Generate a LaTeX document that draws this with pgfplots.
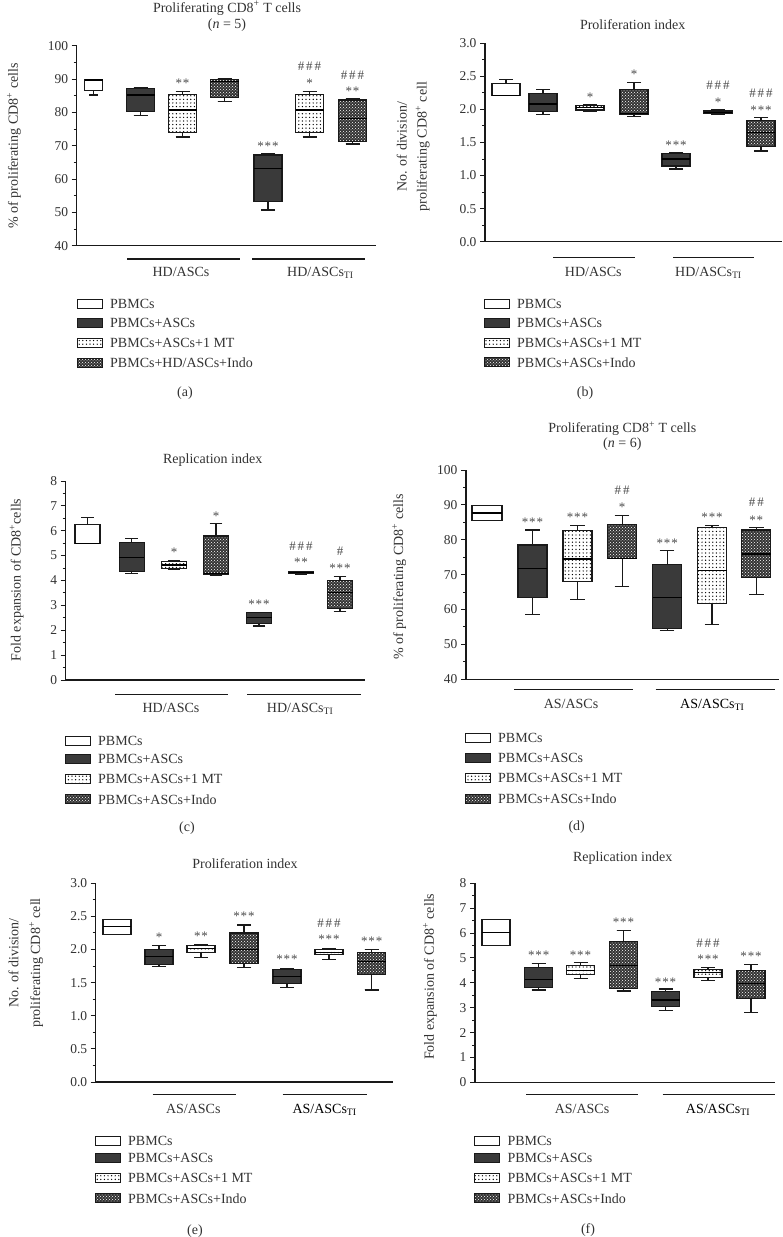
\documentclass[border=0pt]{standalone}
\usepackage{fontspec}
\setmainfont{Liberation Serif}
\usepackage{pgfplots}
\pgfplotsset{compat=1.18}
\usepgfplotslibrary{statistics}
\usetikzlibrary{patterns}
\pgfdeclarepatternformonly{mydots}{\pgfqpoint{-1pt}{-1pt}}{\pgfqpoint{1pt}{1pt}}{\pgfqpoint{3.6pt}{3.6pt}}{\pgfpathcircle{\pgfqpoint{0pt}{0pt}}{0.7pt}\pgfusepath{fill}}
\definecolor{tg}{HTML}{333333}
\definecolor{boxdark}{HTML}{3A3A3A}
\newcommand{\tf}{\fontsize{14}{16.8}\selectfont}
\newcommand{\af}{\fontsize{13}{14}\selectfont}
\tikzset{
  pbm/.style={draw=black!90, fill=white},
  asc/.style={draw=black!90, fill=boxdark},
  mt/.style={draw=black!90, pattern=mydots, pattern color=black},
  indoA/.style={draw=black!90, fill=black!80},
  indoB/.style={draw=black!90, pattern=crosshatch dots, pattern color=white},
}
\pgfplotsset{
  /pgf/number format/assume math mode=true,
  panel/.style={scale only axis, clip=false, anchor=south west,
    axis x line=bottom, axis y line=left,
    axis line style={-, line width=1.2pt, black!90},
    xtick=\empty, xmin=0, tick align=outside,
    major tick length=5pt, minor tick length=3pt,
    every tick/.style={black!90, line width=1pt},
    minor y tick num=1,
    yticklabel style={font=\fontsize{13.5}{14}\selectfont, text=tg},
    boxplot/every median/.style={line width=1.2pt, black},
  },
  dec/.style={yticklabel={\pgfmathprintnumber[fixed,fixed zerofill,precision=1]{\tick}}},
}
% box: pos, width, lw, q1, med, q3, uw, style   (x in units of 100 px)
\newcommand{\bx}[8]{%
  \addplot[#8, line width=1.1pt, boxplot prepared={draw direction=y, draw position=#1, box extend=#2, whisker extend=#2*0.5, lower whisker=#3, lower quartile=#4, median=#5, upper quartile=#6, upper whisker=#7}] coordinates {};}
\newcommand{\bxi}[7]{\bx{#1}{#2}{#3}{#4}{#5}{#6}{#7}{indoA}\bx{#1}{#2}{#3}{#4}{#5}{#6}{#7}{indoB}}
\newcommand{\st}[3]{\node[text=black!70, font=\af, inner sep=0, yshift=-2pt] at (axis cs:#1,#2) {#3};}
\newcommand{\hs}[3]{\node[text=black!70, font=\af, inner sep=0] at (axis cs:#1,#2) {#3};}
\newcommand{\sA}{*}
\newcommand{\sB}{*\kern0.8pt*}
\newcommand{\sC}{*\kern0.8pt*\kern0.8pt*}
\newcommand{\hA}{\#}
\newcommand{\hB}{\#\kern2pt\#}
\newcommand{\hC}{\#\kern2pt\#\kern2pt\#}
% legend row: x, y, style, text
\newcommand{\sw}[3]{\draw[#3, line width=1pt] (#1pt,{-#2pt+4.5pt}) rectangle ({#1pt+25pt},{-#2pt-4.5pt});}
\newcommand{\lr}[4]{%
  \sw{#1}{#2}{#3}
  \node[anchor=west, inner sep=0, text=tg, font=\tf] at ({#1pt+33pt},-#2pt) {#4};}
\newcommand{\mylegend}[6]{% x, y1..y4, last text
  \lr{#1}{#2}{pbm}{PBMCs}
  \lr{#1}{#3}{asc}{PBMCs+ASCs}
  \lr{#1}{#4}{mt}{PBMCs+ASCs+1 MT}
  \sw{#1}{#5}{indoA}
  \lr{#1}{#5}{indoB}{#6}}
\newcommand{\grp}[8]{% y line, x1,x2, x3,x4, ylabel, center1, left2
  \draw[line width=1.2pt, black!90] (#2pt,-#1pt) -- (#3pt,-#1pt);
  \draw[line width=1.2pt, black!90] (#4pt,-#1pt) -- (#5pt,-#1pt);
  \node[anchor=base, inner sep=0, text=tg, font=\tf] at (#7pt,{-#6pt-5pt}) {\grpA};
  \node[anchor=base west, inner sep=0, text=tg, font=\tf] at (#8pt,{-#6pt-5pt}) {\grpB};}
\begin{document}
\begin{tikzpicture}
\path[use as bounding box] (0,0) rectangle (783pt,-1237pt);
\fill[white] (0,0) rectangle (783pt,-1237pt);

% ================= (a) =================
\begin{axis}[panel, at={(76.7pt,-245.7pt)}, width=299pt, height=200pt, xmax=2.99, ymin=40, ymax=100, ytick={40,50,...,100}]
\bx{0.168}{0.18}{85.2}{86.5}{89.7}{89.7}{89.7}{pbm}
\bx{0.638}{0.28}{79.0}{80.2}{85.2}{87.2}{87.4}{asc}
\bx{1.058}{0.28}{72.6}{74.0}{80.7}{85.3}{86.2}{mt}
\bxi{1.478}{0.28}{83.2}{84.5}{89.2}{89.9}{90.2}
\bx{1.913}{0.28}{50.7}{53.2}{63.2}{67.2}{67.6}{asc}
\bx{2.328}{0.28}{72.6}{74.0}{80.7}{85.3}{86.2}{mt}
\bxi{2.758}{0.28}{70.5}{71.2}{78.2}{83.7}{84.0}
\st{1.058}{89.4}{\sB}
\st{1.913}{70.5}{\sC}
\hs{2.328}{93.7}{\hC}
\st{2.328}{89.4}{\sA}
\hs{2.758}{91.2}{\hC}
\st{2.758}{86.9}{\sB}
\end{axis}
\node[text=tg, font=\tf] at (227pt,-8.3pt) {Proliferating CD8\textsuperscript{+} T cells};
\node[text=tg, font=\tf] at (227pt,-25pt) {(\textit{n} = 5)};
\node[text=tg, font=\tf, rotate=90] at (14pt,-146pt) {\% of proliferating CD8\textsuperscript{+} cells};
\def\grpA{HD/ASCs}\def\grpB{HD/ASCs\textsubscript{TI}}
\grp{259}{127}{240}{252}{365}{271.7}{181}{287}
\mylegend{77}{304.3}{322.7}{342.7}{362.7}{PBMCs+HD/ASCs+Indo}
\node[text=tg, font=\tf] at (185pt,-393pt) {(a)};

% ================= (b) =================
\begin{axis}[panel, dec, at={(485pt,-241.7pt)}, width=297pt, height=198.4pt, xmax=2.97, ymin=0, ymax=3, ytick={0,0.5,...,3}]
\bx{0.21}{0.28}{2.21}{2.21}{2.21}{2.386}{2.457}{pbm}
\bx{0.58}{0.28}{1.927}{1.962}{2.083}{2.245}{2.295}{asc}
\bx{1.05}{0.28}{1.973}{1.992}{2.033}{2.064}{2.079}{mt}
\bxi{1.49}{0.28}{1.891}{1.917}{1.943}{2.295}{2.405}
\bx{1.91}{0.28}{1.099}{1.145}{1.251}{1.327}{1.346}{asc}
\bx{2.33}{0.28}{1.927}{1.932}{1.952}{1.977}{1.992}{mt}
\bxi{2.76}{0.28}{1.372}{1.437}{1.649}{1.826}{1.876}
\st{1.05}{2.22}{\sA}
\st{1.49}{2.56}{\sA}
\st{1.91}{1.49}{\sC}
\hs{2.33}{2.36}{\hC}
\st{2.33}{2.14}{\sA}
\hs{2.76}{2.25}{\hC}
\st{2.76}{2.02}{\sC}
\end{axis}
\node[text=tg, font=\tf] at (632.7pt,-25pt) {Proliferation index};
\node[text=tg, font=\fontsize{14}{20}\selectfont, rotate=90, align=center] at (413.3pt,-146.7pt) {No. of division/\\proliferating CD8\textsuperscript{+} cell};
\grp{257.3}{553}{635}{673}{754}{271}{593.3}{675}
\mylegend{484}{304.3}{323.3}{342.7}{362.3}{PBMCs+ASCs+Indo}
\node[text=tg, font=\tf] at (585pt,-392.7pt) {(b)};

% ================= (c) =================
\begin{axis}[panel, at={(65.7pt,-680pt)}, width=299.3pt, height=199pt, xmax=2.993, ymin=0, ymax=8, ytick={0,1,...,8}]
\bx{0.218}{0.25}{5.50}{5.50}{5.50}{6.26}{6.54}{pbm}
\bx{0.66}{0.25}{4.29}{4.38}{4.92}{5.54}{5.70}{asc}
\bx{1.083}{0.25}{4.45}{4.48}{4.62}{4.76}{4.80}{mt}
\bxi{1.503}{0.25}{4.20}{4.26}{4.28}{5.79}{6.28}
\bx{1.933}{0.25}{2.17}{2.28}{2.52}{2.71}{2.73}{asc}
\bx{2.353}{0.25}{4.26}{4.29}{4.32}{4.36}{4.38}{mt}
\bxi{2.743}{0.25}{2.75}{2.88}{3.51}{3.99}{4.16}
\st{1.083}{5.20}{\sA}
\st{1.503}{6.65}{\sA}
\st{1.933}{3.11}{\sC}
\hs{2.353}{5.39}{\hC}
\st{2.353}{4.83}{\sB}
\hs{2.743}{5.19}{\hA}
\st{2.743}{4.58}{\sC}
\end{axis}
\node[text=tg, font=\tf] at (212.7pt,-460pt) {Replication index};
\node[text=tg, font=\tf, rotate=90] at (16.7pt,-580pt) {Fold expansion of CD8\textsuperscript{+}cells};
\grp{694.3}{115}{228}{247}{361}{707.7}{171}{266.7}
\mylegend{65}{741}{759.3}{779.3}{799.3}{PBMCs+ASCs+Indo}
\node[text=tg, font=\tf] at (187pt,-828pt) {(c)};

% ================= (d) =================
\begin{axis}[panel, at={(466pt,-679.3pt)}, width=313pt, height=209.3pt, xmax=3.13, ymin=40, ymax=100, ytick={40,50,...,100}]
\bx{0.21}{0.30}{85.6}{85.6}{87.7}{89.7}{89.7}{pbm}
\bx{0.665}{0.29}{58.7}{63.5}{71.7}{78.5}{82.8}{asc}
\bx{1.115}{0.29}{62.9}{68.0}{74.5}{82.6}{84.0}{mt}
\bxi{1.562}{0.29}{66.7}{74.7}{74.7}{84.4}{87.0}
\bx{2.012}{0.29}{54.1}{54.6}{63.5}{73.0}{76.8}{asc}
\bx{2.46}{0.29}{55.6}{61.8}{71.3}{83.5}{84.0}{mt}
\bxi{2.903}{0.29}{64.2}{69.2}{75.9}{82.8}{83.5}
\st{0.665}{85.7}{\sC}
\st{1.115}{87.1}{\sC}
\hs{1.562}{94.3}{\hB}
\st{1.562}{90.0}{\sA}
\st{2.012}{79.5}{\sC}
\st{2.46}{87.1}{\sC}
\hs{2.903}{90.9}{\hB}
\st{2.903}{86.2}{\sB}
\end{axis}
\node[text=tg, font=\tf] at (622.3pt,-429pt) {Proliferating CD8\textsuperscript{+} T cells};
\node[text=tg, font=\tf] at (622.3pt,-444pt) {(\textit{n} = 6)};
\node[text=tg, font=\tf, rotate=90] at (399.3pt,-576.7pt) {\% of proliferating CD8\textsuperscript{+} cells};
\def\grpA{AS/ASCs}\def\grpB{\textcolor{black}{AS/ASCs\textsubscript{TI}}}
\grp{689.3}{514}{633}{655.7}{775}{703.3}{571}{680}
\mylegend{465}{738.3}{758.3}{778.3}{799}{PBMCs+ASCs+Indo}
\node[text=tg, font=\tf] at (576.7pt,-827pt) {(d)};

% ================= (e) =================
\begin{axis}[panel, dec, at={(95.7pt,-1082pt)}, width=297.3pt, height=198.7pt, xmax=2.973, ymin=0, ymax=3, ytick={0,0.5,...,3}]
\bx{0.213}{0.28}{2.23}{2.23}{2.35}{2.46}{2.46}{pbm}
\bx{0.633}{0.28}{1.745}{1.77}{1.90}{2.0}{2.06}{asc}
\bx{1.053}{0.28}{1.875}{1.95}{2.01}{2.06}{2.08}{mt}
\bxi{1.483}{0.28}{1.735}{1.785}{2.0}{2.25}{2.37}
\bx{1.913}{0.28}{1.43}{1.49}{1.59}{1.695}{1.72}{asc}
\bx{2.333}{0.28}{1.845}{1.92}{1.96}{2.0}{2.02}{mt}
\bxi{2.76}{0.28}{1.39}{1.63}{1.82}{1.96}{2.0}
\st{0.633}{2.21}{\sA}
\st{1.053}{2.23}{\sB}
\st{1.483}{2.53}{\sC}
\st{1.913}{1.88}{\sC}
\hs{2.333}{2.40}{\hC}
\st{2.333}{2.18}{\sC}
\st{2.76}{2.16}{\sC}
\end{axis}
\node[text=tg, font=\tf] at (245pt,-863.3pt) {Proliferation index};
\node[text=tg, font=\fontsize{14}{21.7}\selectfont, rotate=90, align=center] at (25.8pt,-963pt) {No. of division/\\proliferating CD8\textsuperscript{+} cell};
\grp{1094.3}{152.7}{236}{282.7}{366.7}{1108.3}{193.3}{292.3}
\mylegend{95}{1141}{1158.3}{1178.3}{1198.3}{PBMCs+ASCs+Indo}
\node[text=tg, font=\tf] at (195pt,-1231pt) {(e)};

% ================= (f) =================
\begin{axis}[panel, at={(475pt,-1082.3pt)}, width=300pt, height=199pt, xmax=3.00, ymin=0, ymax=8, ytick={0,1,...,8}]
\bx{0.21}{0.28}{5.49}{5.49}{6.02}{6.55}{6.55}{pbm}
\bx{0.637}{0.28}{3.71}{3.80}{4.14}{4.61}{4.76}{asc}
\bx{1.055}{0.28}{4.17}{4.34}{4.51}{4.70}{4.81}{mt}
\bxi{1.485}{0.28}{3.67}{3.78}{4.68}{5.65}{6.10}
\bx{1.905}{0.28}{2.87}{3.04}{3.31}{3.64}{3.75}{asc}
\bx{2.33}{0.28}{4.09}{4.23}{4.41}{4.54}{4.61}{mt}
\bxi{2.76}{0.28}{2.80}{3.38}{3.98}{4.51}{4.74}
\st{0.637}{5.18}{\sC}
\st{1.055}{5.18}{\sC}
\st{1.485}{6.53}{\sC}
\st{1.905}{4.11}{\sC}
\hs{2.33}{5.61}{\hC}
\st{2.33}{5.02}{\sC}
\st{2.76}{5.13}{\sC}
\end{axis}
\node[text=tg, font=\tf] at (622.7pt,-858.3pt) {Replication index};
\node[text=tg, font=\tf, rotate=90] at (430pt,-976.7pt) {Fold expansion of CD8\textsuperscript{+} cells};
\grp{1094.3}{526}{638.3}{662.7}{775}{1108.3}{582}{685.7}
\mylegend{474.3}{1141}{1158.3}{1178.3}{1198.3}{PBMCs+ASCs+Indo}
\node[text=tg, font=\tf] at (588pt,-1230pt) {(f)};
\end{tikzpicture}
\end{document}
